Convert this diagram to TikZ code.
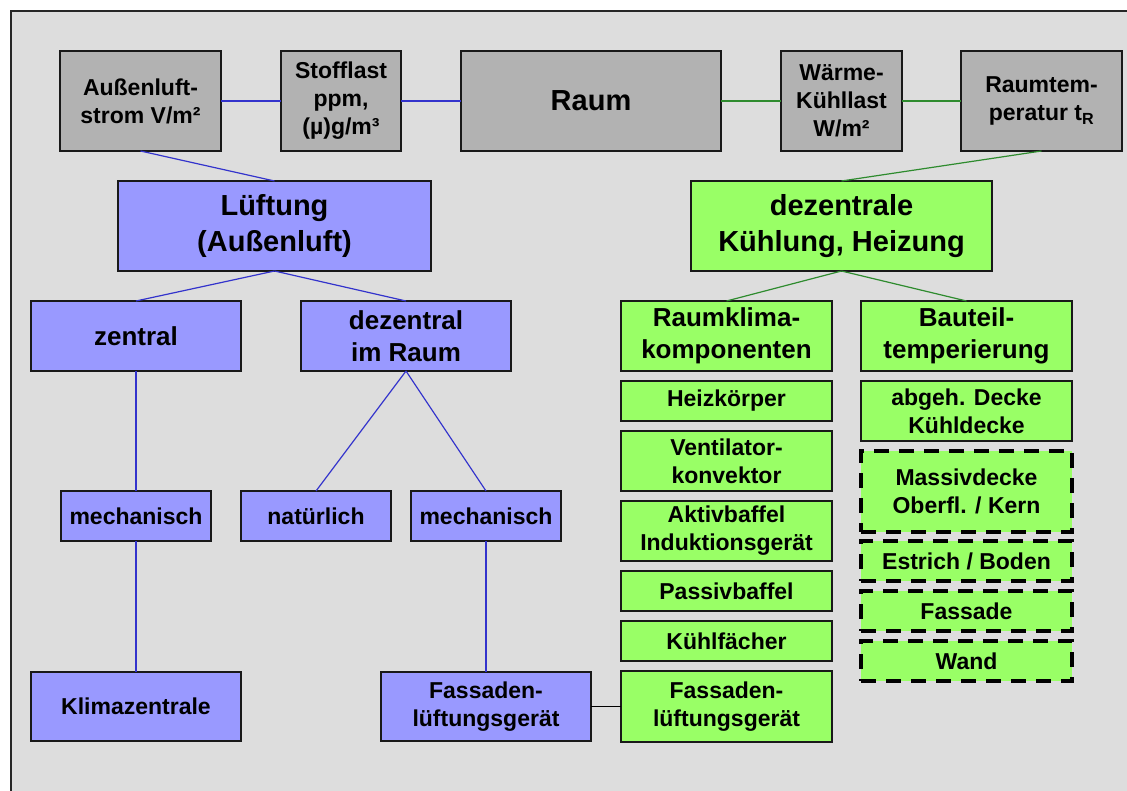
\documentclass[tikz,border=0pt]{standalone}
\usepackage{fontspec}
\setmainfont{Liberation Sans}
\usepackage{tikz}
\usetikzlibrary{positioning}
\usepackage{xcolor}
\definecolor{bggrey}{HTML}{DDDDDD}
\definecolor{lastgrey}{HTML}{B2B2B2}
\definecolor{luftblue}{HTML}{9999FF}
\definecolor{kuehlgreen}{HTML}{99FF66}
\definecolor{luftline}{HTML}{3333CC}
\definecolor{kuehlline}{HTML}{2E8B2E}

\begin{document}
\begin{tikzpicture}[x=1pt,y=-1pt,
		box/.style={draw=black!90,line width=1.3pt,inner sep=0pt,outer sep=0pt,align=center,
			font=\bfseries\fontsize{23}{28}\selectfont},
		lastbox/.style={box,fill=lastgrey,minimum height=100pt},
		luftbox/.style={box,fill=luftblue},
		kuehlbox/.style={box,fill=kuehlgreen,minimum width=211pt},
		dashbox/.style={kuehlbox,draw=black,line width=3.5pt,dash pattern=on 15pt off 10pt},
		big/.style={font=\bfseries\fontsize{29}{36}\selectfont},
		mid/.style={font=\bfseries\fontsize{26}{32}\selectfont},
		luftlink/.style={luftline,line width=1.2pt},
		kuehllink/.style={kuehlline,line width=1.2pt},
		node distance=10pt]
		
		\fill[white] (0,0) rectangle (1127,791);
		\useasboundingbox (0,0) rectangle (1127,791);
		\path[fill=bggrey,draw=black!85,line width=1.5pt] (11,11) rectangle (1150,815);
		
		\node[lastbox,minimum width=161pt] (aussen) at (140.5,101) {Außenluft-\\strom V/m²};
		\node[lastbox,minimum width=120pt] (stoff) at (341,101) {Stofflast\\ppm,\\(µ)g/m³};
		\node[lastbox,big,minimum width=260pt] (raum) at (591,101) {Raum};
		\node[lastbox,minimum width=121pt] (waerme) at (841.5,101) {Wärme-\\Kühllast\\W/m²};
		\node[lastbox,minimum width=161pt] (temp) at (1041.5,101) {Raumtem-\\peratur t\textsubscript{R}};
		
		\node[luftbox,big,minimum width=313pt,minimum height=90pt] (lueft) at (274.5,226) {Lüftung\\(Außenluft)};
		\node[luftbox,mid,minimum width=210pt,minimum height=70pt] (zentral) at (136,336) {zentral};
		\node[luftbox,mid,minimum width=210pt,minimum height=70pt] (dezr) at (406,336) {dezentral\\im Raum};
		\node[luftbox,minimum width=150pt,minimum height=50pt] (mech1) at (136,516) {mechanisch};
		\node[luftbox,minimum width=150pt,minimum height=50pt] (natur) at (316,516) {natürlich};
		\node[luftbox,minimum width=150pt,minimum height=50pt] (mech2) at (486,516) {mechanisch};
		\node[luftbox,minimum width=210pt,minimum height=69pt] (klima) at (136,706.5) {Klimazentrale};
		\node[luftbox,minimum width=210pt,minimum height=69pt] (fassb) at (486,706.5) {Fassaden-\\lüftungsgerät};
		
		\node[kuehlbox,big,minimum width=301pt,minimum height=90pt] (dezk) at (841.5,226) {dezentrale\\Kühlung, Heizung};
		\node[kuehlbox,mid,minimum height=70pt] (raumk) at (726.5,336) {Raumklima-\\komponenten};
		\node[kuehlbox,minimum height=40pt,below=of raumk] (heiz) {Heizkörper};
		\node[kuehlbox,minimum height=60pt,below=of heiz] (vent) {Ventilator-\\konvektor};
		\node[kuehlbox,minimum height=60pt,below=of vent] (aktiv) {Aktivbaffel\\Induktionsgerät};
		\node[kuehlbox,minimum height=40pt,below=of aktiv] (passiv) {Passivbaffel};
		\node[kuehlbox,minimum height=40pt,below=of passiv] (kuehlf) {Kühlfächer};
		\node[kuehlbox,minimum height=71pt,below=of kuehlf] (fassg) {Fassaden-\\lüftungsgerät};
		
		\node[kuehlbox,mid,minimum height=70pt] (baut) at (966.5,336) {Bauteil-\\temperierung};
		\node[kuehlbox,minimum height=60pt,below=of baut] (abgeh) {abgeh. Decke\\Kühldecke};
		\node[dashbox,minimum height=81pt,below=of abgeh] (massiv) {Massivdecke\\Oberfl. / Kern};
		\node[dashbox,minimum height=40pt,below=9pt of massiv] (estrich) {Estrich / Boden};
		\node[dashbox,minimum height=40pt,below=of estrich] (fassade) {Fassade};
		\node[dashbox,minimum height=40pt,below=of fassade] (wand) {Wand};
		
		\draw[luftlink] (aussen) -- (stoff);
		\draw[luftlink] (stoff) -- (raum);
		\draw[kuehllink] (raum) -- (waerme);
		\draw[kuehllink] (waerme) -- (temp);
		
		\draw[luftlink] (aussen.south) -- (lueft.north);
		\draw[luftlink] (lueft.south) -- (zentral.north);
		\draw[luftlink] (lueft.south) -- (dezr.north);
		\draw[luftlink] (zentral) -- (mech1);
		\draw[luftlink] (mech1) -- (klima);
		\draw[luftlink] (dezr.south) -- (natur.north);
		\draw[luftlink] (dezr.south) -- (mech2.north);
		\draw[luftlink] (mech2) -- (fassb);
		\draw[black,line width=1.2pt] (fassb) -- (fassg);
		
		\draw[kuehllink] (temp.south) -- (dezk.north);
		\draw[kuehllink] (dezk.south) -- (raumk.north);
		\draw[kuehllink] (dezk.south) -- (baut.north);
\end{tikzpicture}
\end{document}
